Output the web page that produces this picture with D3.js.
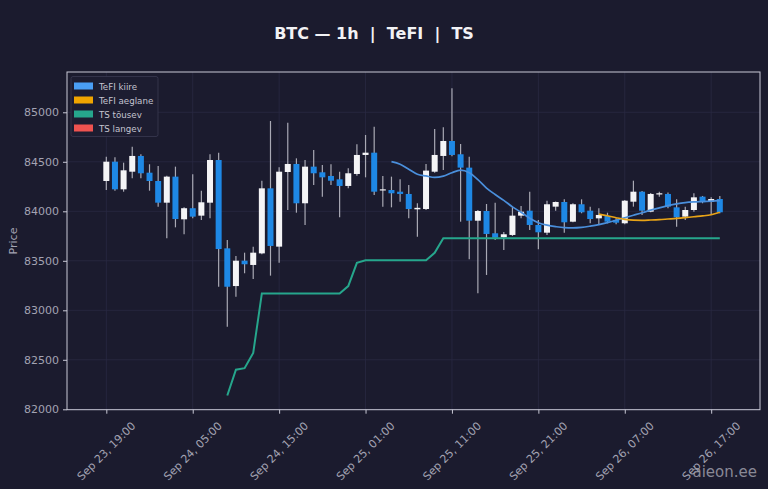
<!DOCTYPE html>
<html>
<head>
<meta charset="utf-8">
<script src="https://cdn.jsdelivr.net/npm/d3@7"></script>
<style>
  html, body { margin: 0; padding: 0; background: #1b1b2e; }
  svg { display: block; font-family: "DejaVu Sans", sans-serif; }
</style>
</head>
<body>
<svg id="chart" width="768" height="489"></svg>
<script>
// hourly candles, Sep 23 19:00 -> Sep 26 18:00
var startTime = new Date(Date.UTC(2025, 8, 23, 19));
var opens = [84306,84501,84222,84400,84559,84390,84306,84087,84350,83919,84031,83956,84087,84518,83626,83245,
  83501,83458,83575,84232,83643,84397,84478,84081,84451,84394,84357,84323,84256,84377,84569,84592,
  84210,84215,84198,84175,84020,84023,84400,84559,84710,84576,84441,83905,84003,83778,83737,83761,
  83956,84006,83862,83784,84047,84094,83895,84071,84006,83929,83953,83912,83879,84097,84198,83996,
  84170,84175,84040,83946,84013,84148,84097,84124];
var highs = [84552,84545,84491,84653,84575,84475,84458,84360,84451,84040,84374,84208,84576,84592,83710,83548,
  83582,83643,84309,84912,84444,84895,84535,84518,84619,84468,84475,84400,84434,84677,84771,84855,
  84357,84350,84323,84266,84081,84478,84831,84848,85242,84680,84552,84013,84074,84087,83790,84047,
  84054,84198,83912,84107,84100,84121,84081,84121,84047,84030,83986,83929,84114,84309,84205,84185,
  84198,84190,84121,84047,84182,84155,84141,84155];
var lows = [84215,84208,84198,84333,84333,84208,84047,83727,83838,83768,83929,83912,83929,83238,82834,83137,
  83374,83316,83565,83350,83481,84013,83986,83862,84266,84148,84266,83939,84232,84360,84343,84165,
  84047,84040,84097,83929,83744,84013,84390,84417,84555,83895,83515,83172,83357,83710,83609,83751,
  83929,83811,83616,83760,84006,83784,83889,83980,83879,83862,83879,83870,83870,84047,83963,83990,
  84148,84030,83845,83912,83996,84081,83963,83980];
var closes = [84501,84222,84414,84559,84384,84306,84087,84350,83922,84031,83946,84091,84518,83619,83238,83501,
  83465,83582,84232,83650,84400,84478,84081,84451,84384,84343,84309,84256,84384,84569,84592,84198,
  84222,84182,84175,84023,84035,84411,84569,84710,84569,84441,83905,84003,83771,83733,83768,83956,
  83996,83862,83788,84071,84094,83889,84071,83990,83922,83963,83895,83885,84107,84198,84006,84175,
  84182,84047,83939,84013,84141,84091,84124,83990];

// TeFI kiire (fast), starts at candle 33
var tefiFastStart = 33;
var tefiFast = [84501,84475,84425,84375,84357,84342,84355,84390,84415,84390,84320,84235,84170,84110,84045,83990,
  83930,83885,83860,83845,83835,83833,83838,83850,83865,83885,83910,83935,83960,83985,84012,84035,
  84057,84075,84088,84095,84099,84103,84107];
// TeFI aeglane (slow), starts at candle 57
var tefiSlowStart = 57;
var tefiSlow = [83972,83955,83935,83918,83910,83909,83912,83916,83922,83928,83936,83945,83953,83965,83990];
// TS tõusev, starts at candle 14
var tsUpStart = 14;
var tsUp = [82140,82400,82415,82570,83170,83170,83170,83170,83170,83170,83170,83170,83170,83170,83245,83480,
  83505,83505,83505,83505,83505,83505,83505,83505,83580,83727,83727,83727,83727,83727,83727,83727,
  83727,83727,83727,83727,83727,83727,83727,83727,83727,83727,83727,83727,83727,83727,83727,83727,
  83727,83727,83727,83727,83727,83727,83727,83727,83727,83727];
var tsDown = [];

var yTicks = [82000, 82500, 83000, 83500, 84000, 84500, 85000];
var xTickHours = [0, 10, 20, 30, 40, 50, 60, 70];
var legendNames = ["TeFI kiire", "TeFI aeglane", "TS tõusev", "TS langev"];
var legendColors = ["#4a9ff5", "#f0a500", "#26a68c", "#ef5350"];

(function () {
  var HOUR = 3600 * 1000;
  function timeAt(i) { return new Date(startTime.getTime() + i * HOUR); }

  var candles = opens.map(function (o, i) {
    return { t: timeAt(i), o: o, h: highs[i], l: lows[i], c: closes[i] };
  });

  var svg = d3.select("#chart");
  var pLeft = 67, pRight = 760, pTop = 72, pBottom = 409.7;

  var x = d3.scaleTime()
    .domain([new Date(timeAt(0).getTime() - 4.55 * HOUR), new Date(timeAt(71).getTime() + 4.65 * HOUR)])
    .range([pLeft, pRight]);
  var y = d3.scaleLinear().domain([81996, 85407]).range([pBottom, pTop]);

  svg.append("rect").attr("width", 768).attr("height", 489).attr("fill", "#1b1b2e");

  // grid
  var grid = svg.append("g");
  grid.selectAll(".gy").data(yTicks).enter().append("line")
    .attr("x1", pLeft).attr("x2", pRight)
    .attr("y1", function (d) { return y(d); }).attr("y2", function (d) { return y(d); })
    .attr("stroke", "#2a2a42").attr("stroke-width", 0.8);
  grid.selectAll(".gx").data(xTickHours).enter().append("line")
    .attr("y1", pTop).attr("y2", pBottom)
    .attr("x1", function (d) { return x(timeAt(d)); }).attr("x2", function (d) { return x(timeAt(d)); })
    .attr("stroke", "#2a2a42").attr("stroke-width", 0.8);

  var line = d3.line()
    .x(function (d) { return x(d.t); })
    .y(function (d) { return y(d.v); });
  var curve = d3.line()
    .curve(d3.curveMonotoneX)
    .x(function (d) { return x(d.t); })
    .y(function (d) { return y(d.v); });
  function series(vals, start) {
    return vals.map(function (v, i) { return { t: timeAt(start + i), v: v }; });
  }

  // candles
  var barW = 6;
  var cg = svg.append("g");
  cg.selectAll(".wick").data(candles).enter().append("line")
    .attr("x1", function (d) { return x(d.t); }).attr("x2", function (d) { return x(d.t); })
    .attr("y1", function (d) { return y(d.h); }).attr("y2", function (d) { return y(d.l); })
    .attr("stroke", "#a9a9b4").attr("stroke-width", 1.2);
  cg.selectAll(".body").data(candles).enter().append("rect")
    .attr("x", function (d) { return x(d.t) - barW / 2; })
    .attr("width", barW)
    .attr("y", function (d) { return y(Math.max(d.o, d.c)); })
    .attr("height", function (d) { return Math.max(1, Math.abs(y(d.o) - y(d.c))); })
    .attr("fill", function (d) { return d.c >= d.o ? "#f4f4f6" : "#1e88e5"; });

  // indicator lines
  svg.append("path").datum(series(tsUp, tsUpStart))
    .attr("fill", "none").attr("stroke", legendColors[2]).attr("stroke-width", 2)
    .attr("d", line);
  svg.append("path").datum(series(tefiFast, tefiFastStart))
    .attr("fill", "none").attr("stroke", "#4a8fdc").attr("stroke-width", 1.7)
    .attr("d", curve);
  svg.append("path").datum(series(tefiSlow, tefiSlowStart))
    .attr("fill", "none").attr("stroke", "#e8a317").attr("stroke-width", 1.7)
    .attr("d", curve);
  if (tsDown.length) {
    svg.append("path").datum(series(tsDown, 0))
      .attr("fill", "none").attr("stroke", legendColors[3]).attr("stroke-width", 2)
      .attr("d", line);
  }

  // axes
  var yAxis = svg.append("g").attr("transform", "translate(" + pLeft + ",0)")
    .call(d3.axisLeft(y).tickValues(yTicks).tickFormat(d3.format("d")).tickSize(4).tickPadding(4));
  var xAxis = svg.append("g").attr("transform", "translate(0," + pBottom + ")")
    .call(d3.axisBottom(x).tickValues(xTickHours.map(timeAt)).tickFormat("").tickSize(4));
  [yAxis, xAxis].forEach(function (a) {
    a.select(".domain").remove();
    a.selectAll(".tick line").attr("stroke", "#c9c9d6");
    a.selectAll("text").attr("fill", "#a3a3b3").attr("font-size", 11)
      .attr("font-family", "DejaVu Sans, sans-serif");
  });

  var fmt = d3.utcFormat("%b %d, %H:%M");
  svg.append("g").selectAll("text").data(xTickHours).enter().append("text")
    .attr("transform", function (d) { return "translate(" + x(timeAt(d)) + ",451) rotate(-45)"; })
    .attr("text-anchor", "middle").attr("dy", "0.35em")
    .attr("fill", "#a3a3b3").attr("font-size", 11)
    .text(function (d) { return fmt(timeAt(d)); });

  // frame
  svg.append("rect").attr("x", pLeft).attr("y", pTop)
    .attr("width", pRight - pLeft).attr("height", pBottom - pTop)
    .attr("fill", "none").attr("stroke", "#c9c9d6").attr("stroke-width", 1);

  // legend
  var lg = svg.append("g").attr("transform", "translate(71,76.5)");
  lg.append("rect").attr("width", 87).attr("height", 60).attr("rx", 2)
    .attr("fill", "#1d1d31").attr("stroke", "#3a3a52").attr("stroke-width", 0.8);
  var items = lg.selectAll(".item").data(legendNames).enter().append("g")
    .attr("transform", function (d, i) { return "translate(0," + (6 + i * 14) + ")"; });
  items.append("rect").attr("x", 3).attr("width", 19).attr("height", 7)
    .attr("fill", function (d, i) { return legendColors[i]; });
  items.append("text").attr("x", 28).attr("y", 7).attr("font-size", 8.7)
    .attr("fill", "#c4c4d0").text(function (d) { return d; });

  // labels
  svg.append("text").attr("x", 374).attr("y", 39).attr("text-anchor", "middle")
    .attr("font-size", 16).attr("font-weight", "bold").attr("fill", "#f2f2f5")
    .style("white-space", "pre")
    .text("BTC \u2014 1h  |  TeFI  |  TS");
  svg.append("text").attr("transform", "translate(17,241) rotate(-90)")
    .attr("text-anchor", "middle").attr("font-size", 11).attr("fill", "#a3a3b3").text("Price");
  svg.append("text").attr("x", 757).attr("y", 477).attr("text-anchor", "end")
    .attr("font-size", 15).attr("fill", "#9d9da8").attr("opacity", 0.85).text("aieon.ee");
})();
</script>
</body>
</html>
